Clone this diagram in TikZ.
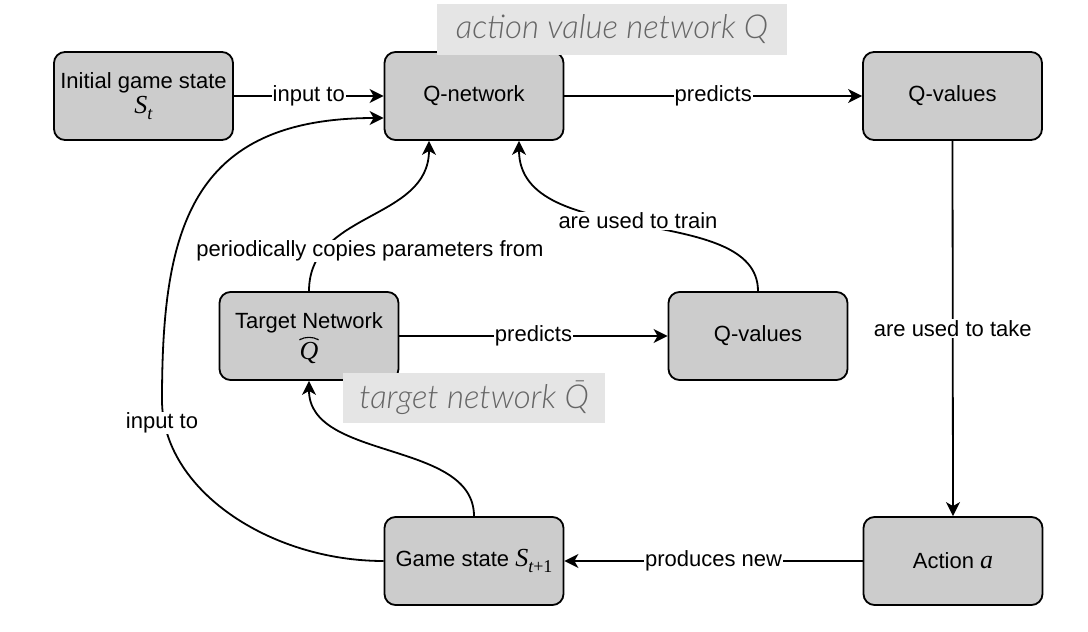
\RequirePackage{fix-cm}
\documentclass[tikz,border=0pt]{standalone}
\usepackage{fontspec}
\setmainfont{Liberation Serif}
\setsansfont{Liberation Sans}
\newfontfamily\annotfont{Lato}[UprightFont=* Light, ItalicFont=* Light Italic]
\usetikzlibrary{arrows.meta,calc}
\definecolor{boxgray}{HTML}{CCCCCC}
\definecolor{annotbg}{HTML}{E5E5E5}
\definecolor{annottext}{HTML}{666666}
\newcommand\vit[1]{{\rmfamily\itshape #1}}
\newcommand\bigvit[1]{{\fontsize{26}{26}\selectfont\rmfamily\itshape #1}}
\newcommand\subsc[1]{\raisebox{-6pt}{\fontsize{18}{18}\selectfont #1}}
\newcommand\hatQ{\ooalign{\bigvit{Q}\cr\hidewidth\raisebox{20pt}{\tikz\draw[line width=1.1pt, line join=round] (0pt,0pt) -- (8pt,5pt) -- (16pt,0pt);}\hidewidth\cr}}
\begin{document}
\begin{tikzpicture}[x=1pt,y=-1pt,
  box/.style={draw=black, line width=1.8pt, fill=boxgray, rounded corners=11pt,
    minimum width=179pt, minimum height=88pt, align=center, inner sep=0pt,
    font=\sffamily\fontsize{22}{27}\selectfont},
  conn/.style={line width=1.8pt, -{Stealth[length=14pt,width=14pt,inset=4pt]}},
  lbl/.style={fill=white, inner sep=1pt, font=\sffamily\fontsize{22}{26}\selectfont},
  annot/.style={fill=annotbg, text=annottext, inner sep=0pt,
    font=\annotfont\itshape\fontsize{33}{38}\selectfont},
]
\fill[white] (0,0) rectangle (1088,632);
\useasboundingbox (0,0) rectangle (1088,632);

% boxes
\node[box] (init)   at (143.5,96) {Initial game state\\[-2pt]\bigvit{S}\subsc{\vit{t}}};
\node[box] (qnet)   at (474,96)   {Q-network};
\node[box] (qtop)   at (952.5,96) {Q-values};
\node[box] (target) at (309,336)  {Target Network\\[4pt]\hatQ};
\node[box] (qmid)   at (758,336)  {Q-values};
\node[box] (game)   at (474,561)  {Game state \bigvit{S}\subsc{\vit{t}{\rmfamily +1}}};
\node[box] (action) at (953,561)  {Action \bigvit{a}};

\coordinate (qnetLL) at ($(qnet.west)+(0,22)$);
\coordinate (qnetB1) at ($(qnet.south)+(-45,0)$);
\coordinate (qnetB2) at ($(qnet.south)+(45,0)$);

% straight connectors
\draw[conn] (init.east) -- node[lbl] {input to} (qnet.west);
\draw[conn] (qnet.east) -- node[lbl] {predicts} (qtop.west);
\draw[conn] (qtop.south) -- node[lbl] {are used to take} (action.north);
\draw[conn] (action.west) -- node[lbl] {produces new} (game.east);
\draw[conn] (target.east) -- node[lbl] {predicts} (qmid.west);

% curved connectors
\draw[conn] (target.north) .. controls +(0,-80) and +(0,80) .. (qnetB1)
  node[lbl] at (370,251) {periodically copies parameters from};
\draw[conn] (qmid.north) .. controls +(0,-90) and +(0,110) .. (qnetB2)
  node[lbl] at (638,221) {are used to train};
\draw[conn] (game.north) .. controls +(0,-76) and +(0,80) .. (target.south);
\draw[conn] (game.west) .. controls (270,561) and (162,490) .. (162,400)
  .. controls (162,230) and (190,118) .. (qnetLL)
  node[lbl] at (162,423) {input to};

% annotations
\node[annot, minimum width=350pt, minimum height=51pt] (annA) at (612,29.5) {action value network Q};
\node[annot, minimum width=262pt, minimum height=50pt] (annB) at (474,398) {target network \={Q}};
\end{tikzpicture}
\end{document}
